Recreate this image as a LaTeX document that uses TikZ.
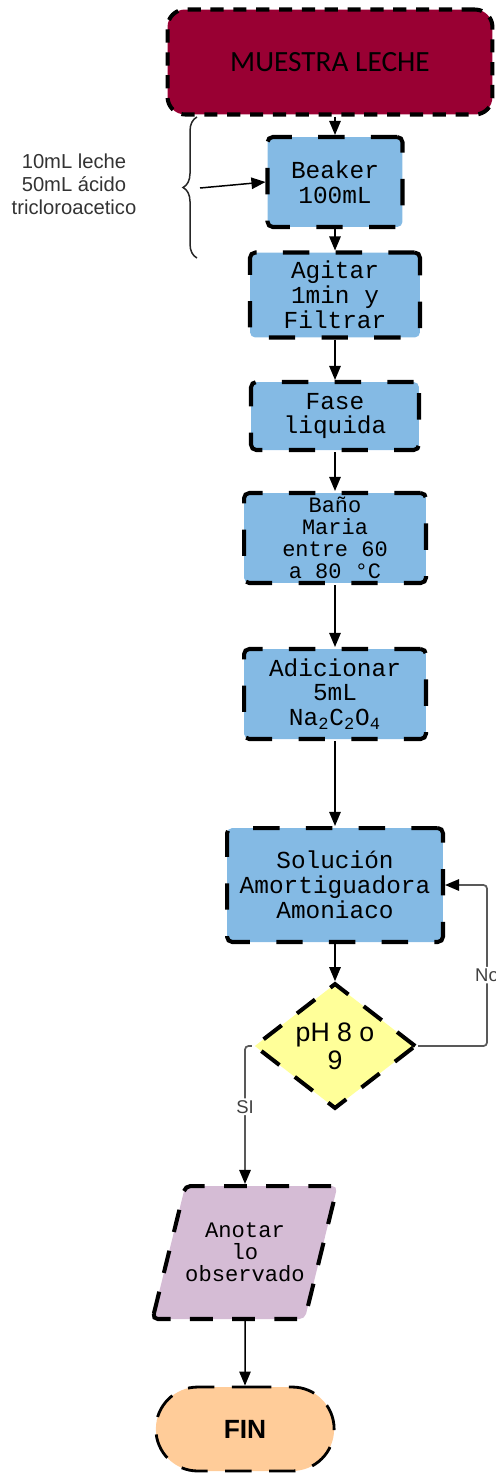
\documentclass[tikz,border=0pt]{standalone}
\usepackage{fontspec}
\newfontfamily\monofont{Liberation Mono}
\newfontfamily\arialfont{Liberation Sans}
\newfontfamily\calibrifont{Carlito}
\usetikzlibrary{arrows.meta, shapes.geometric, shapes.misc, positioning, decorations.pathreplacing}

\definecolor{leche}{HTML}{990033}
\definecolor{paso}{HTML}{84BAE4}
\definecolor{pregunta}{HTML}{FFFF99}
\definecolor{nota}{HTML}{D5BCD5}
\definecolor{final}{HTML}{FFCC99}

\begin{document}
\begin{tikzpicture}[->,>={Triangle[length=8pt,width=6.5pt]},x=0.02cm,y=-0.02cm,line width=0.85pt,
		inicio node/.style={draw, line width=2.3pt, dash pattern=on 7.5pt off 5.5pt, rounded corners=10pt, fill=leche, font=\calibrifont\fontsize{16.7}{20}\selectfont},
		paso node/.style={draw, line width=2.3pt, dash pattern=on 15pt off 15pt, rounded corners=3pt, fill=paso, align=center, inner sep=0pt, font=\monofont\fontsize{13.9}{14.2}\selectfont},
		pregunta node/.style={draw, diamond, line width=2.3pt, dash pattern=on 13pt off 11pt, fill=pregunta, align=center, inner sep=0pt, font=\arialfont\fontsize{15.2}{15.9}\selectfont},
		nota node/.style={draw, trapezium, line width=2.3pt, dash pattern=on 13pt off 11pt, rounded corners=3pt, fill=nota, align=center, inner sep=0pt, font=\monofont\fontsize{12.6}{12.5}\selectfont},
		final node/.style={draw, rounded rectangle, line width=1.6pt, dash pattern=on 15pt off 10pt, fill=final, font=\arialfont\bfseries\fontsize{15}{18}\selectfont},
		lado node/.style={align=center, text=black!80, font=\arialfont\fontsize{11.5}{13.2}\selectfont},
		etiqueta/.style={fill=white, inner sep=1pt, text=black!75, font=\arialfont\fontsize{10.5}{12}\selectfont},
		rama/.style={draw=black!65, line width=1pt, rounded corners=2pt, -{Triangle[length=8pt,width=6.5pt,black]}}]
		\useasboundingbox (0,0) rectangle (496,1474);
		%% Nodes
		\begin{scope}
			\node (muestra) at (330,62) [inicio node, minimum width=6.5cm, minimum height=2.1cm] {MUESTRA LECHE};
			\node (beaker) at (335,182) [paso node, minimum width=2.7cm, minimum height=1.8cm] {Beaker\\100mL};
			\node (agitar) at (335,295) [paso node, minimum width=3.4cm, minimum height=1.7cm] {Agitar\\1min y\\Filtrar};
			\node (fase) at (335,416) [paso node, minimum width=3.36cm, minimum height=1.36cm] {Fase\\liquida};
			\node (bano) at (335,538) [paso node, minimum width=3.64cm, minimum height=1.8cm, font=\monofont\fontsize{12.5}{12.6}\selectfont] {Baño\\Maria\\entre 60\\a 80 °C};
			\node (adicionar) at (335,694) [paso node, minimum width=3.64cm, minimum height=1.8cm] {Adicionar\\5mL\\Na\textsubscript{2}C\textsubscript{2}O\textsubscript{4}};
			\node (solucion) at (335,885) [paso node, minimum width=4.32cm, minimum height=2.28cm] {Solución\\Amortiguadora\\Amoniaco};
		\end{scope}

		% Side note
		\begin{scope}
			\node (cantidades) at (74,184) [lado node] {10mL leche\\50mL ácido\\tricloroacetico};
			\coordinate (bracetip) at (200,188);
		\end{scope}

		% Decision and end
		\begin{scope}
			\node (ph) at (335,1046) [pregunta node, minimum width=3.24cm, minimum height=2.44cm] {pH 8 o\\9};
			\node (anotar) at (245,1252.5) [nota node, trapezium left angle=61, trapezium right angle=119, trapezium stretches=true, minimum width=3.56cm, minimum height=2.66cm] {Anotar\\lo\\observado};
			\node (fin) at (245,1429) [final node, minimum width=3.8cm, minimum height=1.68cm] {FIN};
		\end{scope}

		%% Edges
		\draw[-, black!85, decorate, decoration={brace, amplitude=0.28cm}] (197,258) -- (197,117);
		\draw (bracetip) -- (beaker.west);

		\draw (muestra.south -| beaker.north) -- (beaker);
		\draw (beaker) -- (agitar);
		\draw (agitar) -- (fase);
		\draw (fase) -- (bano);
		\draw (bano) -- (adicionar);
		\draw (adicionar) -- (solucion);
		\draw (solucion) -- (ph);

		\draw[rama] (ph.east) -- ++(69,0) |- (solucion.east) node[etiqueta, pos=0.22] {No};
		\draw[rama] (ph.west) -| (anotar.north) node[etiqueta, pos=0.72] {SI};
		\draw (anotar) -- (fin);
	\end{tikzpicture}
\end{document}
